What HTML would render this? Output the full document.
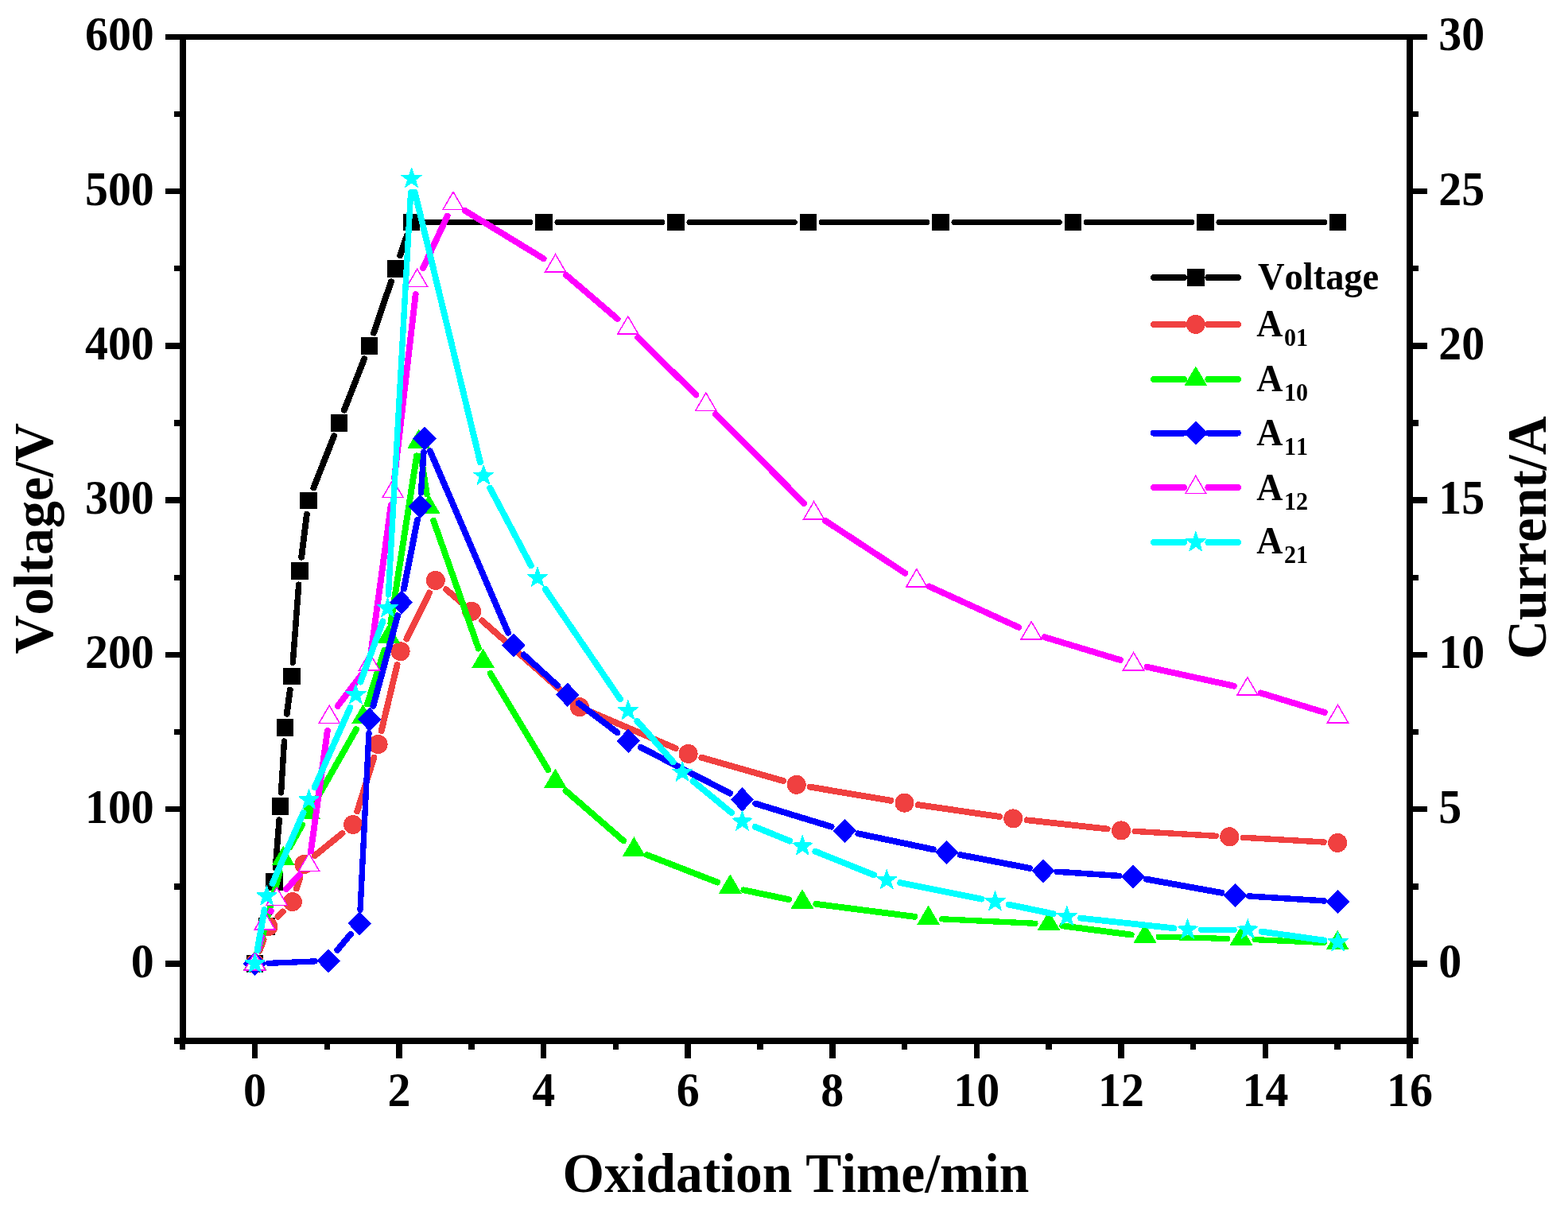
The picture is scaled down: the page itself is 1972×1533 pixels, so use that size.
<!DOCTYPE html>
<html lang="en"><head><meta charset="utf-8"><title>Oxidation Time vs Voltage / Current</title>
<style>html,body{margin:0;padding:0;background:#fff}body{width:1972px;height:1533px;overflow:hidden}svg{display:block}text{font-family:"Liberation Serif",serif;font-weight:bold;fill:#000;font-kerning:none}</style>
</head><body>
<svg width="1972" height="1533" viewBox="0 0 1972 1533">
<rect width="1972" height="1533" fill="#fff"/>
<g shape-rendering="crispEdges">
<g>
<g fill="none" stroke="#000000" stroke-linecap="round"><path d="M325.9 1195.47L330.3 1181.63" stroke-width="7.9"/><path d="M338.48 1147.79L342.12 1126.01" stroke-width="7.9"/><path d="M346.36 1091.57L351.14 1031.23" stroke-width="7.57"/><path d="M353.54 996.81L357.46 932.09" stroke-width="7.43"/><path d="M360.78 897.6L364.72 867.8" stroke-width="7.9"/><path d="M368.3 833.28L375.7 735.22" stroke-width="7.54"/><path d="M379.15 700.69L385.85 646.81" stroke-width="7.88"/><path d="M394.41 613.27L420.09 548.23" stroke-width="7.9"/><path d="M432.87 515.75L458.13 451.25" stroke-width="7.9"/><path d="M470.09 418.47L491.81 354.33" stroke-width="7.9"/><path d="M503.11 321.31L511.89 295.99" stroke-width="7.9"/><path d="M534.6 279.5L666.9 279.5" stroke-width="7"/><path d="M700.9 279.5L832.9 279.5" stroke-width="7"/><path d="M866.9 279.5L999.4 279.5" stroke-width="7"/><path d="M1033.4 279.5L1165.9 279.5" stroke-width="7"/><path d="M1199.9 279.5L1332.4 279.5" stroke-width="7"/><path d="M1366.4 279.5L1499 279.5" stroke-width="7"/><path d="M1533 279.5L1665.6 279.5" stroke-width="7"/></g>
<rect x="309.85" y="1201.35" width="21.5" height="21.5" fill="#000000"/>
<rect x="324.85" y="1154.25" width="21.5" height="21.5" fill="#000000"/>
<rect x="334.25" y="1098.05" width="21.5" height="21.5" fill="#000000"/>
<rect x="341.75" y="1003.25" width="21.5" height="21.5" fill="#000000"/>
<rect x="347.75" y="904.15" width="21.5" height="21.5" fill="#000000"/>
<rect x="356.25" y="839.75" width="21.5" height="21.5" fill="#000000"/>
<rect x="366.25" y="707.25" width="21.5" height="21.5" fill="#000000"/>
<rect x="377.25" y="618.75" width="21.5" height="21.5" fill="#000000"/>
<rect x="415.75" y="521.25" width="21.5" height="21.5" fill="#000000"/>
<rect x="453.75" y="424.25" width="21.5" height="21.5" fill="#000000"/>
<rect x="486.65" y="327.05" width="21.5" height="21.5" fill="#000000"/>
<rect x="506.85" y="268.75" width="21.5" height="21.5" fill="#000000"/>
<rect x="673.15" y="268.75" width="21.5" height="21.5" fill="#000000"/>
<rect x="839.15" y="268.75" width="21.5" height="21.5" fill="#000000"/>
<rect x="1005.65" y="268.75" width="21.5" height="21.5" fill="#000000"/>
<rect x="1172.15" y="268.75" width="21.5" height="21.5" fill="#000000"/>
<rect x="1338.65" y="268.75" width="21.5" height="21.5" fill="#000000"/>
<rect x="1505.25" y="268.75" width="21.5" height="21.5" fill="#000000"/>
<rect x="1671.85" y="268.75" width="21.5" height="21.5" fill="#000000"/>
</g>
<g>
<g fill="none" stroke="#F04040" stroke-linecap="round"><path d="M326.48 1195.67L331.52 1181.63" stroke-width="7.9"/><path d="M349.62 1152.74L355.68 1146.56" stroke-width="7.9"/><path d="M373.03 1117.42L377.27 1103.68" stroke-width="7.9"/><path d="M395.95 1076L430.45 1048" stroke-width="7.9"/><path d="M449.21 1020.35L470.39 952.65" stroke-width="7.9"/><path d="M479.67 919.03L499.53 836.17" stroke-width="7.9"/><path d="M511.34 803.56L540.06 745.54" stroke-width="7.9"/><path d="M561.04 741.27L579.96 757.53" stroke-width="7.9"/><path d="M606.26 780.48L715.84 877.62" stroke-width="7.9"/><path d="M744.93 896.09L849.57 941.01" stroke-width="7.9"/><path d="M882.38 952.7L984.92 982" stroke-width="7.9"/><path d="M1018.91 989.7L1120.29 1006.8" stroke-width="7.9"/><path d="M1154.77 1012.19L1256.93 1026.91" stroke-width="7.9"/><path d="M1291.49 1031.31L1392.71 1042.49" stroke-width="7.79"/><path d="M1427.18 1045.4L1529.12 1051.3" stroke-width="7.42"/><path d="M1563.48 1053.27L1665.02 1059.03" stroke-width="7.41"/></g>
<circle cx="320.6" cy="1212.1" r="12" fill="#F04040"/>
<circle cx="337.4" cy="1165.2" r="12" fill="#F04040"/>
<circle cx="367.9" cy="1134.1" r="12" fill="#F04040"/>
<circle cx="382.4" cy="1087" r="12" fill="#F04040"/>
<circle cx="444" cy="1037" r="12" fill="#F04040"/>
<circle cx="475.6" cy="936" r="12" fill="#F04040"/>
<circle cx="503.6" cy="819.2" r="12" fill="#F04040"/>
<circle cx="547.8" cy="729.9" r="12" fill="#F04040"/>
<circle cx="593.2" cy="768.9" r="12" fill="#F04040"/>
<circle cx="728.9" cy="889.2" r="12" fill="#F04040"/>
<circle cx="865.6" cy="947.9" r="12" fill="#F04040"/>
<circle cx="1001.7" cy="986.8" r="12" fill="#F04040"/>
<circle cx="1137.5" cy="1009.7" r="12" fill="#F04040"/>
<circle cx="1274.2" cy="1029.4" r="12" fill="#F04040"/>
<circle cx="1410" cy="1044.4" r="12" fill="#F04040"/>
<circle cx="1546.3" cy="1052.3" r="12" fill="#F04040"/>
<circle cx="1682.2" cy="1060" r="12" fill="#F04040"/>
</g>
<g>
<g fill="none" stroke="#00FF00" stroke-linecap="round"><path d="M325.15 1195.25L351.65 1097.05" stroke-width="7.9"/><path d="M364.69 1064.95L380.01 1037.45" stroke-width="7.9"/><path d="M397.11 1007.02L447.99 917.28" stroke-width="7.9"/><path d="M461.88 885.47L483.42 817.63" stroke-width="7.9"/><path d="M491.38 783.76L524.02 573.34" stroke-width="7.9"/><path d="M529.36 573.35L536.74 621.05" stroke-width="7.9"/><path d="M545.2 654.76L601.8 815.54" stroke-width="7.9"/><path d="M616.59 846.95L689.41 968.05" stroke-width="7.9"/><path d="M711.59 994.43L784.21 1057.37" stroke-width="7.9"/><path d="M813.66 1075.12L902.04 1109.48" stroke-width="7.9"/><path d="M935.38 1119.36L991.92 1131.14" stroke-width="7.9"/><path d="M1026.31 1136.92L1150.29 1152.78" stroke-width="7.9"/><path d="M1184.75 1155.8L1301.85 1161.3" stroke-width="7.34"/><path d="M1336.3 1164.35L1422.7 1175.55" stroke-width="7.9"/><path d="M1457.09 1178.24L1543.91 1180.46" stroke-width="7.18"/><path d="M1578.14 1181.65L1665.06 1185.45" stroke-width="7.31"/></g>
<polygon points="320.6,1195.6 335.1,1220.1 306.1,1220.1" fill="#00FF00"/>
<polygon points="356.2,1063.7 370.7,1088.2 341.7,1088.2" fill="#00FF00"/>
<polygon points="388.5,1005.7 403,1030.2 374,1030.2" fill="#00FF00"/>
<polygon points="456.6,885.6 471.1,910.1 442.1,910.1" fill="#00FF00"/>
<polygon points="488.7,784.5 503.2,809 474.2,809" fill="#00FF00"/>
<polygon points="526.7,539.6 541.2,564.1 512.2,564.1" fill="#00FF00"/>
<polygon points="539.4,621.8 553.9,646.3 524.9,646.3" fill="#00FF00"/>
<polygon points="607.6,815.5 622.1,840 593.1,840" fill="#00FF00"/>
<polygon points="698.4,966.5 712.9,991 683.9,991" fill="#00FF00"/>
<polygon points="797.4,1052.3 811.9,1076.8 782.9,1076.8" fill="#00FF00"/>
<polygon points="918.3,1099.3 932.8,1123.8 903.8,1123.8" fill="#00FF00"/>
<polygon points="1009,1118.2 1023.5,1142.7 994.5,1142.7" fill="#00FF00"/>
<polygon points="1167.6,1138.5 1182.1,1163 1153.1,1163" fill="#00FF00"/>
<polygon points="1319,1145.6 1333.5,1170.1 1304.5,1170.1" fill="#00FF00"/>
<polygon points="1440,1161.3 1454.5,1185.8 1425.5,1185.8" fill="#00FF00"/>
<polygon points="1561,1164.4 1575.5,1188.9 1546.5,1188.9" fill="#00FF00"/>
<polygon points="1682.2,1169.7 1696.7,1194.2 1667.7,1194.2" fill="#00FF00"/>
</g>
<g>
<g fill="none" stroke="#0000FF" stroke-linecap="round"><path d="M337.74 1211.38L395.96 1208.92" stroke-width="7.3"/><path d="M424.27 1194.8L441.03 1174.7" stroke-width="7.9"/><path d="M453.04 1144.14L463.96 921.96" stroke-width="7.35"/><path d="M469.35 887.95L500.05 774.35" stroke-width="7.9"/><path d="M507.96 740.38L524.94 653.92" stroke-width="7.9"/><path d="M529.47 619.6L532.93 568.5" stroke-width="7.49"/><path d="M540.98 567.33L639.02 795.67" stroke-width="7.9"/><path d="M658.78 823.48L701.02 862.12" stroke-width="7.9"/><path d="M727.8 884.45L776.3 921.25" stroke-width="7.9"/><path d="M805.72 939.78L917.98 997.52" stroke-width="7.9"/><path d="M950.19 1010.59L1045.61 1039.71" stroke-width="7.9"/><path d="M1079.38 1048.39L1173.62 1068.21" stroke-width="7.9"/><path d="M1207.84 1075.09L1294.86 1091.81" stroke-width="7.9"/><path d="M1329.2 1096.24L1407.8 1101.46" stroke-width="7.48"/><path d="M1442.17 1105.71L1536.43 1122.79" stroke-width="7.9"/><path d="M1570.79 1126.98L1665.41 1132.92" stroke-width="7.45"/></g>
<polygon points="320.6,1197 335.4,1212.1 320.6,1227.2 305.8,1212.1" fill="#0000FF"/>
<polygon points="413.1,1193.1 427.9,1208.2 413.1,1223.3 398.3,1208.2" fill="#0000FF"/>
<polygon points="452.2,1146.2 467,1161.3 452.2,1176.4 437.4,1161.3" fill="#0000FF"/>
<polygon points="464.8,889.7 479.6,904.8 464.8,919.9 450,904.8" fill="#0000FF"/>
<polygon points="504.6,742.4 519.4,757.5 504.6,772.6 489.8,757.5" fill="#0000FF"/>
<polygon points="528.3,621.7 543.1,636.8 528.3,651.9 513.5,636.8" fill="#0000FF"/>
<polygon points="534.1,536.2 548.9,551.3 534.1,566.4 519.3,551.3" fill="#0000FF"/>
<polygon points="645.9,796.6 660.7,811.7 645.9,826.8 631.1,811.7" fill="#0000FF"/>
<polygon points="713.9,858.8 728.7,873.9 713.9,889 699.1,873.9" fill="#0000FF"/>
<polygon points="790.2,916.7 805,931.8 790.2,946.9 775.4,931.8" fill="#0000FF"/>
<polygon points="933.5,990.4 948.3,1005.5 933.5,1020.6 918.7,1005.5" fill="#0000FF"/>
<polygon points="1062.3,1029.7 1077.1,1044.8 1062.3,1059.9 1047.5,1044.8" fill="#0000FF"/>
<polygon points="1190.7,1056.7 1205.5,1071.8 1190.7,1086.9 1175.9,1071.8" fill="#0000FF"/>
<polygon points="1312,1080 1326.8,1095.1 1312,1110.2 1297.2,1095.1" fill="#0000FF"/>
<polygon points="1425,1087.5 1439.8,1102.6 1425,1117.7 1410.2,1102.6" fill="#0000FF"/>
<polygon points="1553.6,1110.8 1568.4,1125.9 1553.6,1141 1538.8,1125.9" fill="#0000FF"/>
<polygon points="1682.6,1118.9 1697.4,1134 1682.6,1149.1 1667.8,1134" fill="#0000FF"/>
</g>
<g>
<g fill="none" stroke="#FF00FF" stroke-linecap="round"><path d="M324.78 1195.16L328.92 1178.44" stroke-width="7.9"/><path d="M340.72 1145.8L340.48 1146.3" stroke-width="7.9"/><path d="M360.08 1117.91L376.62 1100.39" stroke-width="7.9"/><path d="M390.98 1070.41L411.82 919.09" stroke-width="7.9"/><path d="M424.73 887.89L454.07 849.11" stroke-width="7.9"/><path d="M466.95 817.91L491.75 635.29" stroke-width="7.9"/><path d="M496.1 600.7L522.7 370.1" stroke-width="7.82"/><path d="M532.09 336.99L562.61 271.71" stroke-width="7.9"/><path d="M584.89 264.99L683.71 325.31" stroke-width="7.9"/><path d="M711.86 345.74L776.54 401.06" stroke-width="7.9"/><path d="M802.25 424.62L875.35 496.38" stroke-width="7.9"/><path d="M900.09 520.98L1011.31 633.02" stroke-width="7.9"/><path d="M1038.18 654.98L1138.22 720.72" stroke-width="7.9"/><path d="M1168.67 737.55L1281.23 788.95" stroke-width="7.9"/><path d="M1313.8 801.26L1408.9 830.04" stroke-width="7.9"/><path d="M1442.65 838.82L1551.85 862.68" stroke-width="7.9"/><path d="M1585.59 871.5L1665.81 896" stroke-width="7.9"/></g>
<polygon points="320.6,1197.5 333.6,1219.8 307.6,1219.8" fill="#fff" stroke="#FF00FF" stroke-width="1.5"/>
<polygon points="333.1,1146.9 346.1,1169.2 320.1,1169.2" fill="#fff" stroke="#FF00FF" stroke-width="1.5"/>
<polygon points="348.1,1116 361.1,1138.3 335.1,1138.3" fill="#fff" stroke="#FF00FF" stroke-width="1.5"/>
<polygon points="388.6,1073.1 401.6,1095.4 375.6,1095.4" fill="#fff" stroke="#FF00FF" stroke-width="1.5"/>
<polygon points="414.2,887.2 427.2,909.5 401.2,909.5" fill="#fff" stroke="#FF00FF" stroke-width="1.5"/>
<polygon points="464.6,820.6 477.6,842.9 451.6,842.9" fill="#fff" stroke="#FF00FF" stroke-width="1.5"/>
<polygon points="494.1,603.4 507.1,625.7 481.1,625.7" fill="#fff" stroke="#FF00FF" stroke-width="1.5"/>
<polygon points="524.7,338.2 537.7,360.5 511.7,360.5" fill="#fff" stroke="#FF00FF" stroke-width="1.5"/>
<polygon points="570,241.3 583,263.6 557,263.6" fill="#fff" stroke="#FF00FF" stroke-width="1.5"/>
<polygon points="698.6,319.8 711.6,342.1 685.6,342.1" fill="#fff" stroke="#FF00FF" stroke-width="1.5"/>
<polygon points="789.8,397.8 802.8,420.1 776.8,420.1" fill="#fff" stroke="#FF00FF" stroke-width="1.5"/>
<polygon points="887.8,494 900.8,516.3 874.8,516.3" fill="#fff" stroke="#FF00FF" stroke-width="1.5"/>
<polygon points="1023.6,630.8 1036.6,653.1 1010.6,653.1" fill="#fff" stroke="#FF00FF" stroke-width="1.5"/>
<polygon points="1152.8,715.7 1165.8,738 1139.8,738" fill="#fff" stroke="#FF00FF" stroke-width="1.5"/>
<polygon points="1297.1,781.6 1310.1,803.9 1284.1,803.9" fill="#fff" stroke="#FF00FF" stroke-width="1.5"/>
<polygon points="1425.6,820.5 1438.6,842.8 1412.6,842.8" fill="#fff" stroke="#FF00FF" stroke-width="1.5"/>
<polygon points="1568.9,851.8 1581.9,874.1 1555.9,874.1" fill="#fff" stroke="#FF00FF" stroke-width="1.5"/>
<polygon points="1682.5,886.5 1695.5,908.8 1669.5,908.8" fill="#fff" stroke="#FF00FF" stroke-width="1.5"/>
</g>
<g>
<g fill="none" stroke="#00FFFF" stroke-linecap="round"><path d="M323.61 1194.91L332.49 1144.29" stroke-width="7.9"/><path d="M342.5 1111.12L381.5 1022.08" stroke-width="7.9"/><path d="M395.61 990.16L440.29 889.94" stroke-width="7.9"/><path d="M453.42 857.62L481.48 781.38" stroke-width="7.9"/><path d="M488.46 747.83L516.64 241.77" stroke-width="7.4"/><path d="M521.71 241.56L603.99 581.34" stroke-width="7.9"/><path d="M616.26 613.73L667.84 711.27" stroke-width="7.9"/><path d="M685.83 741.12L780.07 879.38" stroke-width="7.9"/><path d="M801.43 906.9L846.57 958.2" stroke-width="7.9"/><path d="M871.59 982.37L920.01 1022.13" stroke-width="7.9"/><path d="M949.65 1039.81L993.05 1057.59" stroke-width="7.9"/><path d="M1025.39 1070.71L1099.01 1100.29" stroke-width="7.9"/><path d="M1132.31 1110.21L1234.39 1130.59" stroke-width="7.9"/><path d="M1268.58 1137.56L1324.72 1149.24" stroke-width="7.9"/><path d="M1359.08 1154.67L1476.32 1167.33" stroke-width="7.77"/><path d="M1510.6 1169.2L1552.3 1169.2" stroke-width="7"/><path d="M1586.58 1171.61L1665.32 1182.59" stroke-width="7.9"/></g>
<polygon points="320.6,1198.7 323.75,1207.76 333.34,1207.96 325.7,1213.76 328.48,1222.94 320.6,1217.46 312.72,1222.94 315.5,1213.76 307.86,1207.96 317.45,1207.76" fill="#00FFFF" stroke="#00FFFF" stroke-width="1" stroke-linejoin="round"/>
<polygon points="335.5,1113.7 338.65,1122.76 348.24,1122.96 340.6,1128.76 343.38,1137.94 335.5,1132.46 327.62,1137.94 330.4,1128.76 322.76,1122.96 332.35,1122.76" fill="#00FFFF" stroke="#00FFFF" stroke-width="1" stroke-linejoin="round"/>
<polygon points="388.5,992.7 391.65,1001.76 401.24,1001.96 393.6,1007.76 396.38,1016.94 388.5,1011.46 380.62,1016.94 383.4,1007.76 375.76,1001.96 385.35,1001.76" fill="#00FFFF" stroke="#00FFFF" stroke-width="1" stroke-linejoin="round"/>
<polygon points="447.4,860.6 450.55,869.66 460.14,869.86 452.5,875.66 455.28,884.84 447.4,879.36 439.52,884.84 442.3,875.66 434.66,869.86 444.25,869.66" fill="#00FFFF" stroke="#00FFFF" stroke-width="1" stroke-linejoin="round"/>
<polygon points="487.5,751.6 490.65,760.66 500.24,760.86 492.6,766.66 495.38,775.84 487.5,770.36 479.62,775.84 482.4,766.66 474.76,760.86 484.35,760.66" fill="#00FFFF" stroke="#00FFFF" stroke-width="1" stroke-linejoin="round"/>
<polygon points="517.6,211.2 520.75,220.26 530.34,220.46 522.7,226.26 525.48,235.44 517.6,229.96 509.72,235.44 512.5,226.26 504.86,220.46 514.45,220.26" fill="#00FFFF" stroke="#00FFFF" stroke-width="1" stroke-linejoin="round"/>
<polygon points="608.1,584.9 611.25,593.96 620.84,594.16 613.2,599.96 615.98,609.14 608.1,603.66 600.22,609.14 603,599.96 595.36,594.16 604.95,593.96" fill="#00FFFF" stroke="#00FFFF" stroke-width="1" stroke-linejoin="round"/>
<polygon points="676,713.3 679.15,722.36 688.74,722.56 681.1,728.36 683.88,737.54 676,732.06 668.12,737.54 670.9,728.36 663.26,722.56 672.85,722.36" fill="#00FFFF" stroke="#00FFFF" stroke-width="1" stroke-linejoin="round"/>
<polygon points="789.9,880.4 793.05,889.46 802.64,889.66 795,895.46 797.78,904.64 789.9,899.16 782.02,904.64 784.8,895.46 777.16,889.66 786.75,889.46" fill="#00FFFF" stroke="#00FFFF" stroke-width="1" stroke-linejoin="round"/>
<polygon points="858.1,957.9 861.25,966.96 870.84,967.16 863.2,972.96 865.98,982.14 858.1,976.66 850.22,982.14 853,972.96 845.36,967.16 854.95,966.96" fill="#00FFFF" stroke="#00FFFF" stroke-width="1" stroke-linejoin="round"/>
<polygon points="933.5,1019.8 936.65,1028.86 946.24,1029.06 938.6,1034.86 941.38,1044.04 933.5,1038.56 925.62,1044.04 928.4,1034.86 920.76,1029.06 930.35,1028.86" fill="#00FFFF" stroke="#00FFFF" stroke-width="1" stroke-linejoin="round"/>
<polygon points="1009.2,1050.8 1012.35,1059.86 1021.94,1060.06 1014.3,1065.86 1017.08,1075.04 1009.2,1069.56 1001.32,1075.04 1004.1,1065.86 996.46,1060.06 1006.05,1059.86" fill="#00FFFF" stroke="#00FFFF" stroke-width="1" stroke-linejoin="round"/>
<polygon points="1115.2,1093.4 1118.35,1102.46 1127.94,1102.66 1120.3,1108.46 1123.08,1117.64 1115.2,1112.16 1107.32,1117.64 1110.1,1108.46 1102.46,1102.66 1112.05,1102.46" fill="#00FFFF" stroke="#00FFFF" stroke-width="1" stroke-linejoin="round"/>
<polygon points="1251.5,1120.6 1254.65,1129.66 1264.24,1129.86 1256.6,1135.66 1259.38,1144.84 1251.5,1139.36 1243.62,1144.84 1246.4,1135.66 1238.76,1129.86 1248.35,1129.66" fill="#00FFFF" stroke="#00FFFF" stroke-width="1" stroke-linejoin="round"/>
<polygon points="1341.8,1139.4 1344.95,1148.46 1354.54,1148.66 1346.9,1154.46 1349.68,1163.64 1341.8,1158.16 1333.92,1163.64 1336.7,1154.46 1329.06,1148.66 1338.65,1148.46" fill="#00FFFF" stroke="#00FFFF" stroke-width="1" stroke-linejoin="round"/>
<polygon points="1493.6,1155.8 1496.75,1164.86 1506.34,1165.06 1498.7,1170.86 1501.48,1180.04 1493.6,1174.56 1485.72,1180.04 1488.5,1170.86 1480.86,1165.06 1490.45,1164.86" fill="#00FFFF" stroke="#00FFFF" stroke-width="1" stroke-linejoin="round"/>
<polygon points="1569.3,1155.8 1572.45,1164.86 1582.04,1165.06 1574.4,1170.86 1577.18,1180.04 1569.3,1174.56 1561.42,1180.04 1564.2,1170.86 1556.56,1165.06 1566.15,1164.86" fill="#00FFFF" stroke="#00FFFF" stroke-width="1" stroke-linejoin="round"/>
<polygon points="1682.6,1171.6 1685.75,1180.66 1695.34,1180.86 1687.7,1186.66 1690.48,1195.84 1682.6,1190.36 1674.72,1195.84 1677.5,1186.66 1669.86,1180.86 1679.45,1180.66" fill="#00FFFF" stroke="#00FFFF" stroke-width="1" stroke-linejoin="round"/>
</g>
</g>
<g shape-rendering="crispEdges" stroke="#000" stroke-width="7.5" fill="none" stroke-linecap="butt">
<path d="M230 42.55V1312.75"/>
<path d="M1773 42.55V1312.75"/>
<path d="M226.25 46.3H1776.75"/>
<path d="M226.25 1309H1776.75"/>
<path d="M219 1309.14H230M1773 1309.14H1784M208 1212H230M1773 1212H1795M219 1114.86H230M1773 1114.86H1784M208 1017.72H230M1773 1017.72H1795M219 920.58H230M1773 920.58H1784M208 823.43H230M1773 823.43H1795M219 726.29H230M1773 726.29H1784M208 629.15H230M1773 629.15H1795M219 532.01H230M1773 532.01H1784M208 434.87H230M1773 434.87H1795M219 337.72H230M1773 337.72H1784M208 240.58H230M1773 240.58H1795M219 143.44H230M1773 143.44H1784M208 46.3H230M1773 46.3H1795M229.72 1309V1320M320.5 1309V1331M411.28 1309V1320M502.06 1309V1331M592.84 1309V1320M683.62 1309V1331M774.41 1309V1320M865.19 1309V1331M955.97 1309V1320M1046.75 1309V1331M1137.53 1309V1320M1228.31 1309V1331M1319.09 1309V1320M1409.88 1309V1331M1500.66 1309V1320M1591.44 1309V1331M1682.22 1309V1320M1773 1309V1331"/>
</g>
<g>
<text transform="translate(193.8 1229) scale(0.957 1)" font-size="60.5" text-anchor="end">0</text>
<text transform="translate(193.8 1034.72) scale(0.957 1)" font-size="60.5" text-anchor="end">100</text>
<text transform="translate(193.8 840.43) scale(0.957 1)" font-size="60.5" text-anchor="end">200</text>
<text transform="translate(193.8 646.15) scale(0.957 1)" font-size="60.5" text-anchor="end">300</text>
<text transform="translate(193.8 451.87) scale(0.957 1)" font-size="60.5" text-anchor="end">400</text>
<text transform="translate(193.8 257.58) scale(0.957 1)" font-size="60.5" text-anchor="end">500</text>
<text transform="translate(193.8 63.3) scale(0.957 1)" font-size="60.5" text-anchor="end">600</text>
<text transform="translate(1809.2 1229) scale(0.957 1)" font-size="60.5">0</text>
<text transform="translate(1809.2 1034.72) scale(0.957 1)" font-size="60.5">5</text>
<text transform="translate(1809.2 840.43) scale(0.957 1)" font-size="60.5">10</text>
<text transform="translate(1809.2 646.15) scale(0.957 1)" font-size="60.5">15</text>
<text transform="translate(1809.2 451.87) scale(0.957 1)" font-size="60.5">20</text>
<text transform="translate(1809.2 257.58) scale(0.957 1)" font-size="60.5">25</text>
<text transform="translate(1809.2 63.3) scale(0.957 1)" font-size="60.5">30</text>
<text transform="translate(320.5 1390.6) scale(0.957 1)" font-size="60.5" text-anchor="middle">0</text>
<text transform="translate(502.06 1390.6) scale(0.957 1)" font-size="60.5" text-anchor="middle">2</text>
<text transform="translate(683.62 1390.6) scale(0.957 1)" font-size="60.5" text-anchor="middle">4</text>
<text transform="translate(865.19 1390.6) scale(0.957 1)" font-size="60.5" text-anchor="middle">6</text>
<text transform="translate(1046.75 1390.6) scale(0.957 1)" font-size="60.5" text-anchor="middle">8</text>
<text transform="translate(1228.31 1390.6) scale(0.957 1)" font-size="60.5" text-anchor="middle">10</text>
<text transform="translate(1409.88 1390.6) scale(0.957 1)" font-size="60.5" text-anchor="middle">12</text>
<text transform="translate(1591.44 1390.6) scale(0.957 1)" font-size="60.5" text-anchor="middle">14</text>
<text transform="translate(1773 1390.6) scale(0.957 1)" font-size="60.5" text-anchor="middle">16</text>
</g>
<text transform="translate(1001 1499) scale(0.974 1)" font-size="69.3" text-anchor="middle">Oxidation Time/min</text>
<text transform="translate(66.2 677.3) rotate(-90) scale(0.978 1)" font-size="69.5" text-anchor="middle">Voltage/V</text>
<text transform="translate(1944 676.1) rotate(-90) scale(0.978 1)" font-size="69.5" text-anchor="middle">Current/A</text>
<g shape-rendering="crispEdges">
<path d="M1451 348.9H1488.8M1519.4 348.9H1556.8" stroke="#000000" stroke-width="8" stroke-linecap="round" fill="none"/>
<rect x="1493.05" y="338.15" width="21.5" height="21.5" fill="#000000"/>
<path d="M1451 407.9H1488.8M1519.4 407.9H1556.8" stroke="#F04040" stroke-width="8" stroke-linecap="round" fill="none"/>
<circle cx="1503.8" cy="407.9" r="12" fill="#F04040"/>
<path d="M1451 476.9H1488.8M1519.4 476.9H1556.8" stroke="#00FF00" stroke-width="8" stroke-linecap="round" fill="none"/>
<polygon points="1503.8,460.4 1518.3,484.9 1489.3,484.9" fill="#00FF00"/>
<path d="M1451 544.6H1488.8M1519.4 544.6H1556.8" stroke="#0000FF" stroke-width="8" stroke-linecap="round" fill="none"/>
<polygon points="1503.8,529.5 1518.6,544.6 1503.8,559.7 1489,544.6" fill="#0000FF"/>
<path d="M1451 613H1488.8M1519.4 613H1556.8" stroke="#FF00FF" stroke-width="8" stroke-linecap="round" fill="none"/>
<polygon points="1503.8,598.4 1516.8,620.7 1490.8,620.7" fill="#fff" stroke="#FF00FF" stroke-width="1.5"/>
<path d="M1451 682H1488.8M1519.4 682H1556.8" stroke="#00FFFF" stroke-width="8" stroke-linecap="round" fill="none"/>
<polygon points="1503.8,668.6 1506.95,677.66 1516.54,677.86 1508.9,683.66 1511.68,692.84 1503.8,687.36 1495.92,692.84 1498.7,683.66 1491.06,677.86 1500.65,677.66" fill="#00FFFF" stroke="#00FFFF" stroke-width="1" stroke-linejoin="round"/>
</g>
<g>
<text transform="translate(1582 363.9) scale(0.978 1)" font-size="47.5">Voltage</text>
<text transform="translate(1580.2 422.9) scale(0.945 1)" font-size="48.5">A</text>
<text transform="translate(1615 434.8) scale(0.970 1)" font-size="31">01</text>
<text transform="translate(1580.2 491.9) scale(0.945 1)" font-size="48.5">A</text>
<text transform="translate(1615 503.8) scale(0.970 1)" font-size="31">10</text>
<text transform="translate(1580.2 559.8) scale(0.945 1)" font-size="48.5">A</text>
<text transform="translate(1615 571.7) scale(0.970 1)" font-size="31">11</text>
<text transform="translate(1580.2 628.7) scale(0.945 1)" font-size="48.5">A</text>
<text transform="translate(1615 640.6) scale(0.970 1)" font-size="31">12</text>
<text transform="translate(1580.2 696.1) scale(0.945 1)" font-size="48.5">A</text>
<text transform="translate(1615 708) scale(0.970 1)" font-size="31">21</text>
</g>
</svg></body></html>
